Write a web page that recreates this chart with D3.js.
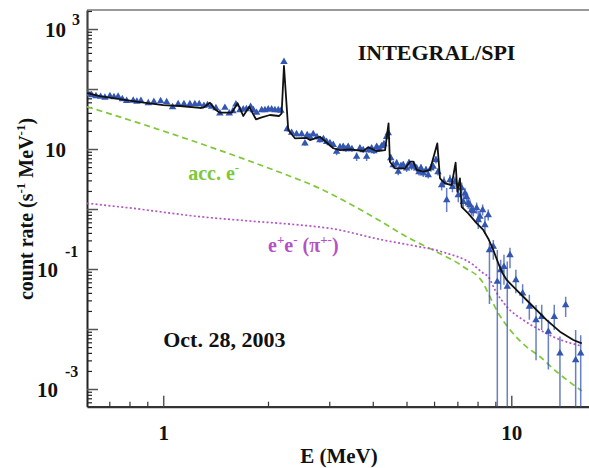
<!DOCTYPE html>
<html>
<head>
<meta charset="utf-8">
<script src="https://cdn.jsdelivr.net/npm/d3@7"></script>
<style>
body { margin: 0; background: #fff; }
text { font-family: "Liberation Serif", "Times New Roman", serif; font-weight: bold; }
</style>
</head>
<body>
<svg id="chart" width="589" height="468"></svg>
<script>
// SPI data points (MeV, counts s^-1 MeV^-1), error bars in decades
var dataE = [
  0.604, 0.623, 0.641, 0.661, 0.680, 0.703, 0.722, 0.742, 0.763, 0.785,
  0.820, 0.840, 0.863, 0.906, 0.940, 0.983, 1.023, 1.064, 1.104, 1.147,
  1.193, 1.233, 1.269, 1.309, 1.340, 1.378, 1.417, 1.455, 1.504, 1.548,
  1.586, 1.618, 1.661, 1.698, 1.734, 1.783, 1.816, 1.855, 1.918, 1.960,
  2.003, 2.049, 2.094, 2.141, 2.179, 2.223, 2.271, 2.339, 2.416, 2.499,
  2.554, 2.593, 2.640, 2.698, 2.765, 2.820, 2.886, 2.948, 3.013, 3.080,
  3.150, 3.220, 3.290, 3.350, 3.401, 3.485, 3.595, 3.674, 3.755, 3.841,
  3.899, 3.970, 4.031, 4.104, 4.167, 4.243, 4.307, 4.385, 4.432, 4.505,
  4.580, 4.685, 4.734, 4.820, 4.894, 5.005, 5.082, 5.173, 5.252, 5.347,
  5.430, 5.502, 5.586, 5.687, 5.774, 5.878, 5.969, 6.077, 6.158, 6.310,
  6.408, 6.523, 6.667, 6.776, 6.890, 7.043, 7.202, 7.279, 7.362, 7.443,
  7.522, 7.607, 7.693, 7.775, 7.952, 8.037, 8.128, 8.274, 8.401, 8.587,
  8.656, 8.879, 9.118, 9.322, 9.528, 9.739, 9.915, 10.31, 10.78, 11.27,
  11.78, 12.23, 12.78, 13.29, 13.80, 14.33, 15.31, 15.83
];
var dataY = [
  82.5, 79.4, 76.4, 74.4, 72.2, 76.4, 73.6, 75.0, 68.1, 63.8,
  64.3, 61.9, 63.8, 58.4, 61.4, 63.1, 60.7, 50.1, 56.2, 56.2,
  56.2, 56.2, 56.2, 52.7, 54.1, 50.7, 48.3, 39.4, 48.8, 39.4,
  43.0, 55.6, 44.7, 45.9, 46.4, 50.7, 44.7, 40.3, 44.7, 44.7,
  45.9, 45.9, 44.7, 44.7, 43.5, 285, 21.5, 18.7, 17.8, 17.8,
  12.4, 17.1, 16.0, 17.8, 15.8, 14.1, 14.7, 13.2, 12.6, 11.7,
  9.02, 10.8, 10.9, 10.0, 10.9, 10.0, 7.44, 10.3, 9.62, 7.44,
  9.62, 10.3, 9.26, 10.9, 10.0, 11.2, 12.1, 16.0, 18.5, 7.08,
  5.41, 5.78, 4.19, 5.21, 5.41, 4.77, 5.84, 5.07, 5.41, 4.77,
  4.14, 4.82, 3.94, 4.47, 3.69, 4.82, 5.07, 6.56, 4.14, 2.51,
  2.82, 1.41, 3.04, 2.33, 2.82, 1.71, 2.24, 1.32, 1.83, 1.58,
  1.24, 1.17, 0.962, 0.926, 1.04, 0.656, 0.745, 0.962, 0.541, 0.794,
  0.207, 0.236, 0.0614, 0.0962, 0.109, 0.0507, 0.171, 0.0656, 0.0394, 0.0236,
  0.0141, 0.0160, 0.00902, 0.0160, 0.00394, 0.0251, 0.00304, 0.00394
];
var errUp = [
  1.5, .02, .02, .02, .02, .02, .02, .02, .02, .02,
  .02, .02, .02, .02, .02, .02, .02, .02, .02, .02,
  .02, .02, .02, .02, .02, .02, .02, .02, .02, .02,
  .02, .02, .02, .02, .02, .02, .02, .02, .02, .02,
  .02, .02, .02, .02, .02, .03, .04, .04, .04, .04,
  .04, .04, .04, .04, .04, .04, .04, .04, .04, .04,
  .06, .05, .05, .05, .05, .05, .07, .05, .05, .07,
  .05, .05, .05, .05, .05, .05, .05, .05, .05, .06,
  .06, .06, .06, .06, .06, .06, .06, .06, .06, .06,
  .06, .06, .06, .06, .06, .06, .06, .06, .06, .09,
  .09, .2, .09, .09, .09, .12, .09, .12, .09, .09,
  .09, .09, .09, .09, .09, .15, .09, .09, .15, .09,
  .12, .11, .53, .17, .2, .42, .12, .17, .15, .2,
  .25, .2, .2, .2, .28, .14, .5, .3
];
var errDn = [
  .03, .02, .02, .02, .02, .02, .02, .02, .02, .02,
  .02, .02, .02, .02, .02, .02, .02, .02, .02, .02,
  .02, .02, .02, .02, .02, .02, .02, .02, .02, .02,
  .02, .02, .02, .02, .02, .02, .02, .02, .02, .02,
  .02, .02, .02, .02, .02, .03, .04, .04, .04, .04,
  .04, .04, .04, .04, .04, .04, .04, .04, .04, .04,
  .06, .05, .05, .05, .05, .05, .07, .05, .05, .07,
  .05, .05, .05, .05, .05, .05, .05, .05, .05, .06,
  .06, .06, .06, .06, .06, .06, .06, .06, .06, .06,
  .06, .06, .06, .06, .06, .06, .06, .06, .06, .09,
  .09, .2, .09, .09, .09, .12, .09, .12, .09, .09,
  .09, .09, .09, .09, .09, .15, .09, .09, .15, .09,
  .9, .22, 9, .33, .3, 9, .22, .22, .17, .22,
  .67, .22, .63, .22, 9, .2, 9, 9
];

// total model (black line)
var modelE = [0.604, 0.658, 0.751, 0.857, 1.0, 1.117, 1.275, 1.303, 1.362, 1.408,
  1.455, 1.573, 1.636, 1.698, 1.767, 1.847, 1.918, 2.026, 2.154, 2.189,
  2.223, 2.287, 2.39, 2.583, 2.64, 2.82, 3.08, 3.22, 3.44, 3.76,
  3.88, 4.10, 4.34, 4.44, 4.48, 4.63, 4.95, 5.12, 5.23, 5.35,
  5.59, 5.84, 6.13, 6.24, 6.45, 6.74, 6.92, 7.0, 7.12, 7.2,
  7.52, 7.96, 8.31, 8.59, 8.88, 9.18, 9.39, 9.70, 10.13, 10.83,
  11.57, 12.64, 13.80, 15.08, 15.94];
var modelY = [85.8, 76.4, 68.1, 60.7, 54.1, 52.1, 48.3, 48.8, 59.1, 45.9,
  40.3, 40.3, 57.8, 35.5, 50.7, 31.3, 33.8, 36.9, 35.5, 39.4,
  241.7, 20.7, 15.1, 15.3, 14.1, 16.0, 10.3, 9.6, 9.86, 9.26,
  10.7, 9.26, 9.6, 26.8, 6.14, 4.77, 4.77, 6.14, 6.14, 4.47,
  4.19, 4.47, 12.4, 3.25, 2.68, 2.51, 5.91, 1.94, 3.25, 1.09,
  0.848, 0.578, 0.447, 0.32, 0.207, 0.124, 0.0902, 0.0656, 0.0507, 0.0345,
  0.0235, 0.0141, 0.00902, 0.00656, 0.00578];

// accelerated electrons (green dashed)
var accE = [0.604, 0.857, 1.275, 1.586, 2.468, 2.64, 3.28, 4.0, 5.21, 5.96,
  7.28, 8.31, 8.68, 9.18, 9.93, 11.05, 12.09, 13.5, 15.94];
var accY = [50.7, 26.8, 12.4, 7.94, 3.04, 2.60, 1.41, 0.745, 0.304, 0.207,
  0.109, 0.0578, 0.0345, 0.0183, 0.00962, 0.00508, 0.00345, 0.00194, 0.00093];

// pion-decay e+e- (magenta dotted)
var pairE = [0.604, 0.818, 1.275, 1.775, 2.468, 3.01, 4.28, 5.12, 6.31, 7.78,
  8.31, 8.59, 8.98, 9.70, 10.83, 12.09, 13.5, 15.94];
var pairY = [1.245, 1.027, 0.745, 0.631, 0.541, 0.477, 0.304, 0.251, 0.194, 0.117,
  0.0848, 0.0745, 0.0447, 0.0236, 0.0141, 0.00962, 0.0070, 0.0052];

var xMajor = [1, 10];
var xMinor = [0.7, 0.8, 0.9, 2, 3, 4, 5, 6, 7, 8, 9];
var yLabelExp = [3, 1, -1, -3];

var padL = 87, padR = 595, padT = 10, padB = 406.7;
var green = "#7ec83a", magenta = "#b552c6", blue = "#3456b3";

var x = d3.scaleLog().domain([0.604, 17.4]).range([padL, padR]);
var y = d3.scaleLog().domain([5.07e-4, 2075]).range([padB, padT]);

var svg = d3.select("#chart");
svg.append("defs").append("clipPath").attr("id", "plotclip")
  .append("rect")
  .attr("x", padL).attr("y", padT)
  .attr("width", padR - padL).attr("height", padB - padT);

// y ticks
var yMajor = d3.range(-3, 4).map(function (e) { return Math.pow(10, e); });
var yMinor = [];
d3.range(-4, 4).forEach(function (e) {
  for (var m = 2; m <= 9; m++) {
    var v = m * Math.pow(10, e);
    if (v > 5.07e-4 && v < 2075) yMinor.push(v);
  }
});

var gy = svg.append("g").attr("transform", "translate(" + padL + ",0)");
gy.append("g")
  .call(d3.axisLeft(y).tickValues(yMinor).tickSize(-5).tickSizeOuter(0).tickFormat(""))
  .call(function (g) { g.select(".domain").remove(); })
  .selectAll("line").attr("stroke", "#222").attr("stroke-width", 1.2);
gy.append("g")
  .call(d3.axisLeft(y).tickValues(yMajor).tickSize(-11).tickSizeOuter(0).tickFormat(""))
  .call(function (g) {
    g.select(".domain").attr("stroke", "#222").attr("stroke-width", 2);
  })
  .selectAll("line").attr("stroke", "#555").attr("stroke-width", 1.5);

// x ticks
var gx = svg.append("g").attr("transform", "translate(0," + padB + ")");
gx.append("g")
  .call(d3.axisBottom(x).tickValues(xMinor).tickSize(-5).tickSizeOuter(0).tickFormat(""))
  .call(function (g) { g.select(".domain").remove(); })
  .selectAll("line").attr("stroke", "#333").attr("stroke-width", 1.2);
gx.append("g")
  .call(d3.axisBottom(x).tickValues(xMajor).tickSize(-11).tickSizeOuter(0)
    .tickPadding(18).tickFormat(d3.format("d")))
  .call(function (g) {
    g.select(".domain").attr("stroke", "#333").attr("stroke-width", 2.2);
    g.selectAll("line").attr("stroke", "#555").attr("stroke-width", 1.5);
    g.selectAll("text").attr("font-size", 21).attr("fill", "#111")
      .attr("font-family", "Liberation Serif, serif").attr("font-weight", "bold");
  });

// top frame line
svg.append("line")
  .attr("x1", padL).attr("x2", padR).attr("y1", padT).attr("y2", padT)
  .attr("stroke", "#777").attr("stroke-width", 1.5);

// y tick labels 10^n
yLabelExp.forEach(function (e) {
  var py = y(Math.pow(10, e));
  var baseEnd = e > 0 ? 66 : 58;
  svg.append("text").attr("x", baseEnd).attr("y", py + 8)
    .attr("text-anchor", "end").attr("font-size", 21).attr("fill", "#111").text("10");
  if (e !== 1) {
    svg.append("text").attr("x", e > 0 ? 72 : 65)
      .attr("y", py + (e > 0 ? -4 : -12))
      .attr("font-size", 16).attr("fill", "#111").text(String(e));
  }
});

// curves
var line = d3.line()
  .x(function (d) { return x(d[0]); })
  .y(function (d) { return y(d[1]); });
var plot = svg.append("g").attr("clip-path", "url(#plotclip)");

plot.append("path")
  .datum(d3.zip(accE, accY))
  .attr("d", line.curve(d3.curveMonotoneX))
  .attr("fill", "none").attr("stroke", green).attr("stroke-width", 1.7)
  .attr("stroke-dasharray", "6,4");

plot.append("path")
  .datum(d3.zip(pairE, pairY))
  .attr("d", line.curve(d3.curveMonotoneX))
  .attr("fill", "none").attr("stroke", magenta).attr("stroke-width", 1.7)
  .attr("stroke-dasharray", "2,2.3");

// data
var pts = dataE.map(function (e, i) {
  return { e: e, v: dataY[i], up: errUp[i], dn: errDn[i] };
});

plot.selectAll(".err").data(pts).enter().append("line")
  .attr("class", "err")
  .attr("x1", function (d) { return x(d.e); })
  .attr("x2", function (d) { return x(d.e); })
  .attr("y1", function (d) { return y(d.v * Math.pow(10, d.up)); })
  .attr("y2", function (d) { return y(d.v / Math.pow(10, d.dn)); })
  .attr("stroke", blue).attr("stroke-opacity", 0.75).attr("stroke-width", 1.5);

var tri = d3.symbol().type(d3.symbolTriangle).size(24);
plot.selectAll(".pt").data(pts).enter().append("path")
  .attr("class", "pt")
  .attr("d", tri)
  .attr("transform", function (d) { return "translate(" + x(d.e) + "," + y(d.v) + ")"; })
  .attr("fill", blue);

plot.append("path")
  .datum(d3.zip(modelE, modelY))
  .attr("d", line.curve(d3.curveLinear))
  .attr("fill", "none").attr("stroke", "#111").attr("stroke-width", 1.8)
  .attr("stroke-linejoin", "round");

// annotations
svg.append("text").attr("x", x(6.1)).attr("y", y(300))
  .attr("text-anchor", "middle").attr("font-size", 22).attr("fill", "#111")
  .text("INTEGRAL/SPI");

svg.append("text").attr("x", x(1.0)).attr("y", y(0.005))
  .attr("font-size", 22).attr("fill", "#111")
  .text("Oct. 28, 2003");

var acc = svg.append("text").attr("x", x(1.18)).attr("y", y(3.0))
  .attr("font-size", 20).attr("fill", green);
acc.append("tspan").text("acc. e");
acc.append("tspan").attr("dy", -8).attr("font-size", 13).text("-");

var pair = svg.append("text").attr("x", x(2.0)).attr("y", y(0.19))
  .attr("font-size", 20).attr("fill", magenta);
pair.append("tspan").text("e");
pair.append("tspan").attr("dy", -8).attr("font-size", 13).text("+");
pair.append("tspan").attr("dy", 8).text("e");
pair.append("tspan").attr("dy", -8).attr("font-size", 13).text("-");
pair.append("tspan").attr("dy", 8).text(" (\u03c0");
pair.append("tspan").attr("dy", -8).attr("font-size", 13).text("+-");
pair.append("tspan").attr("dy", 8).text(")");

// axis titles
svg.append("text").attr("x", 339).attr("y", 463)
  .attr("text-anchor", "middle").attr("font-size", 21).attr("fill", "#111")
  .text("E (MeV)");

var yt = svg.append("text")
  .attr("transform", "translate(33,209) rotate(-90)")
  .attr("text-anchor", "middle").attr("font-size", 20).attr("fill", "#111");
yt.append("tspan").text("count rate (s");
yt.append("tspan").attr("dy", -8).attr("font-size", 13).text("-1");
yt.append("tspan").attr("dy", 8).text(" MeV");
yt.append("tspan").attr("dy", -8).attr("font-size", 13).text("-1");
yt.append("tspan").attr("dy", 8).text(")");
</script>
</body>
</html>
